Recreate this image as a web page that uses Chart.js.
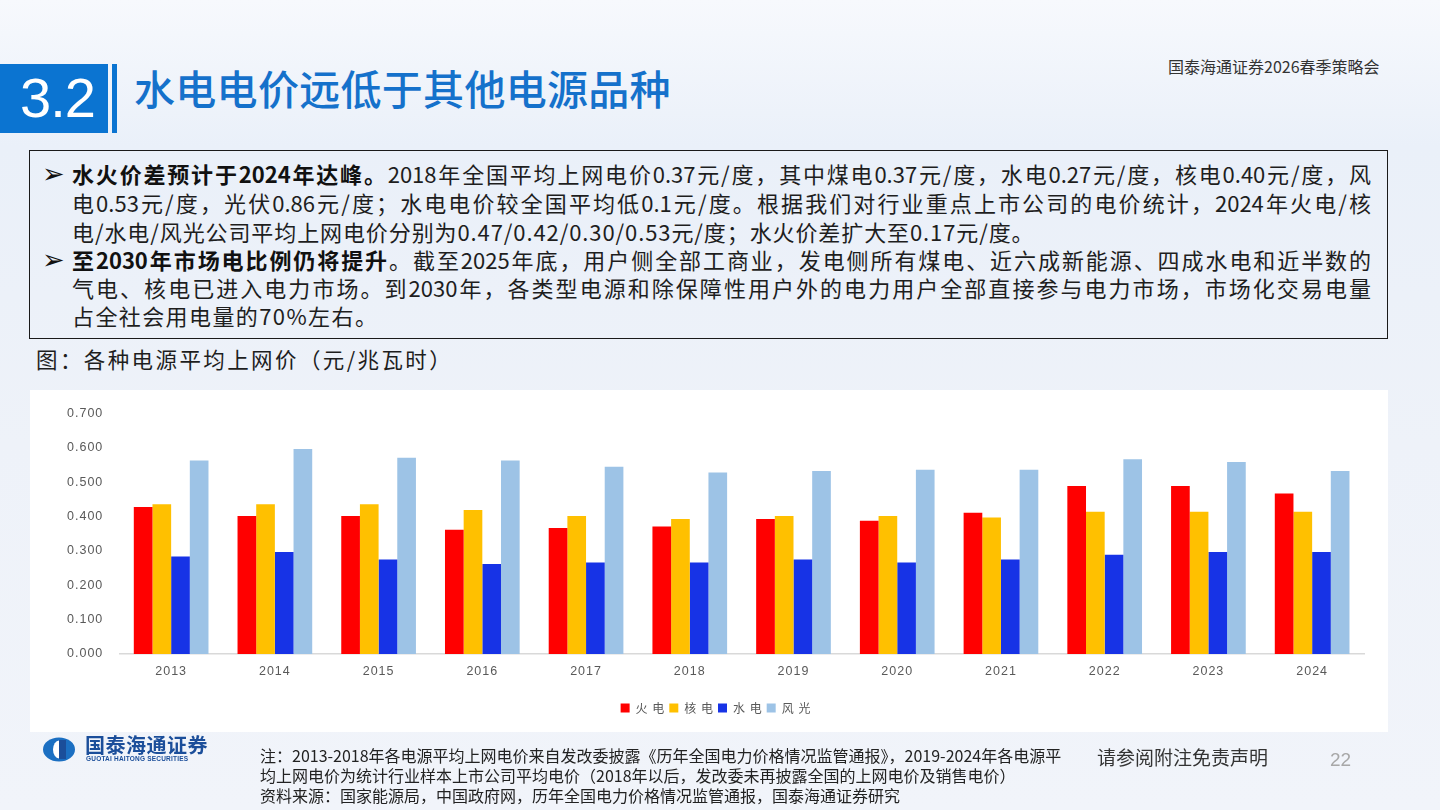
<!DOCTYPE html>
<html>
<head>
<meta charset="utf-8">
<script src="https://cdn.jsdelivr.net/npm/chart.js@4.4.1/dist/chart.umd.min.js"></script>
<style>
  html, body { margin: 0; padding: 0; }
  body {
    width: 1440px; height: 810px; overflow: hidden; position: relative;
    font-family: "Noto Sans CJK SC", "Noto Sans", sans-serif;
    background: linear-gradient(180deg, #f7f9fd 0%, #eaf0f9 18%, #eef2f9 55%, #f1f4fa 100%);
  }
  .abs { position: absolute; white-space: nowrap; }
  #numbox { left: 0; top: 64px; width: 108px; height: 69px; background: #0b74d1; }
  #num { left: 20px; top: 58px; font-family: "Liberation Sans", Arial, sans-serif; font-size: 56px; color: #fff; letter-spacing: -1px; line-height: 80px; }
  #vbar { left: 112px; top: 64px; width: 5px; height: 69px; background: #0b74d1; }
  #title { left: 134px; top: 61px; font-size: 41px; line-height: 52px; color: #1571cb; font-weight: 500; letter-spacing: 0.3px; }
  #brand { left: 1168px; top: 55px; font-size: 16px; color: #333; line-height: 22px; }
  #box { left: 29px; top: 150px; width: 1357px; height: 187px; border: 1.5px solid #1a1a1a; }
  .ln { position: absolute; left: 72px; width: 1299px; font-size: 22px; line-height: 28px; color: #1e1e1e; white-space: nowrap; }
  .ln.j { text-align: justify; text-align-last: justify; }
  .ln b { font-weight: 700; color: #111; }
  .arrow { position: absolute; left: 42px; font-size: 27px; line-height: 28px; color: #111; }
  #cap { left: 36px; top: 345px; font-size: 21.5px; letter-spacing: 2.4px; color: #1e1e1e; line-height: 28px; }
  #panel { left: 30px; top: 390px; width: 1358px; height: 342px; background: #fff; }
  #logo { left: 42px; top: 737px; width: 34px; height: 25px; }
  #logotext { left: 85px; top: 733px; font-size: 20px; font-weight: 700; color: #1b4e9a; line-height: 24px; letter-spacing: 0.5px; }
  #logoen { left: 86px; top: 755px; font-family: "Liberation Sans", Arial, sans-serif; font-size: 6.5px; font-weight: 700; color: #1b4e9a; letter-spacing: 0.2px; }
  .note { position: absolute; left: 260px; font-size: 16px; line-height: 20px; color: #222; white-space: nowrap; }
  #disc { left: 1097px; top: 744px; font-size: 19px; color: #333; line-height: 26px; }
  #page { left: 1330px; top: 747px; font-family: "Liberation Sans", Arial, sans-serif; font-size: 19px; color: #a8a8a8; line-height: 26px; }
</style>
</head>
<body>
<div class="abs" id="numbox"></div>
<div class="abs" id="num">3.2</div>
<div class="abs" id="vbar"></div>
<div class="abs" id="title">水电电价远低于其他电源品种</div>
<div class="abs" id="brand">国泰海通证券2026春季策略会</div>

<div class="abs" id="box"></div>
<div class="arrow" style="top:158px">➢</div>
<div class="ln j" style="top:159px"><b>水火价差预计于2024年达峰。</b>2018年全国平均上网电价0.37元/度，其中煤电0.37元/度，水电0.27元/度，核电0.40元/度，风</div>
<div class="ln j" style="top:188px">电0.53元/度，光伏0.86元/度；水电电价较全国平均低0.1元/度。根据我们对行业重点上市公司的电价统计，2024年火电/核</div>
<div class="ln" style="top:217px; letter-spacing:0.9px">电/水电/风光公司平均上网电价分别为0.47/0.42/0.30/0.53元/度；水火价差扩大至0.17元/度。</div>
<div class="arrow" style="top:244px">➢</div>
<div class="ln j" style="top:245px"><b>至2030年市场电比例仍将提升</b>。截至2025年底，用户侧全部工商业，发电侧所有煤电、近六成新能源、四成水电和近半数的</div>
<div class="ln j" style="top:273px">气电、核电已进入电力市场。到2030年，各类型电源和除保障性用户外的电力用户全部直接参与电力市场，市场化交易电量</div>
<div class="ln" style="top:301px; letter-spacing:1.4px">占全社会用电量的70%左右。</div>

<div class="abs" id="cap">图：各种电源平均上网价（元/兆瓦时）</div>

<div class="abs" id="panel"><canvas id="chart" width="1358" height="342"></canvas></div>

<svg class="abs" id="logo" viewBox="0 0 34 25">
  <ellipse cx="17" cy="12.5" rx="16" ry="12" fill="#1b6fc2"/>
  <ellipse cx="17" cy="12.5" rx="6" ry="9" fill="#fff"/>
  <rect x="17" y="3" width="7" height="19" fill="#1b4e9a"/>
</svg>
<div class="abs" id="logotext">国泰海通证券</div>
<div class="abs" id="logoen">GUOTAI HAITONG SECURITIES</div>

<div class="note" style="top:745px">注：2013-2018年各电源平均上网电价来自发改委披露《历年全国电力价格情况监管通报》，2019-2024年各电源平</div>
<div class="note" style="top:765px">均上网电价为统计行业样本上市公司平均电价（2018年以后，发改委未再披露全国的上网电价及销售电价）</div>
<div class="note" style="top:785px">资料来源：国家能源局，中国政府网，历年全国电力价格情况监管通报，国泰海通证券研究</div>

<div class="abs" id="disc">请参阅附注免责声明</div>
<div class="abs" id="page">22</div>

<script>
// 数据：各种电源平均上网价
const years = ['2013', '2014', '2015', '2016', '2017', '2018', '2019', '2020', '2021', '2022', '2023', '2024'];
const thermal = [0.428, 0.402, 0.402, 0.362, 0.367, 0.371, 0.393, 0.388, 0.411, 0.489, 0.489, 0.467];  // 火电
const nuclear = [0.436, 0.436, 0.436, 0.419, 0.402, 0.393, 0.402, 0.402, 0.397, 0.414, 0.414, 0.414];  // 核电
const hydro   = [0.284, 0.297, 0.275, 0.262, 0.266, 0.266, 0.275, 0.266, 0.275, 0.289, 0.297, 0.297];  // 水电
const windPv  = [0.563, 0.597, 0.571, 0.563, 0.545, 0.528, 0.533, 0.536, 0.536, 0.567, 0.559, 0.533];  // 风光
const seriesNames = ['火电', '核电', '水电', '风光'];
const seriesColors = ['#ff0000', '#ffc000', '#1733e6', '#9dc3e6'];

const tickColor = '#595959';

// canvas 字间距
const spacing = {
  id: 'spacing',
  beforeDraw(chart) { chart.ctx.letterSpacing = '1px'; }
};

const ctx = document.getElementById('chart').getContext('2d');
new Chart(ctx, {
  type: 'bar',
  data: {
    labels: years,
    datasets: [thermal, nuclear, hydro, windPv].map((vals, i) => ({
      label: seriesNames[i],
      data: vals,
      backgroundColor: seriesColors[i],
      borderWidth: 0,
      categoryPercentage: 0.72,
      barPercentage: 1.0
    }))
  },
  options: {
    responsive: false,
    animation: false,
    layout: { padding: { top: 15, left: 26, right: 24, bottom: 8 } },
    plugins: {
      legend: {
        position: 'bottom',
        labels: {
          boxWidth: 9,
          boxHeight: 9,
          padding: 4,
          color: tickColor,
          font: { family: '"Noto Sans CJK SC", sans-serif', size: 12 },
          generateLabels(chart) {
            return chart.data.datasets.map((ds, i) => ({
              text: ds.label.split('').join(' '),
              fillStyle: ds.backgroundColor,
              strokeStyle: ds.backgroundColor,
              lineWidth: 0,
              fontColor: tickColor,
              datasetIndex: i
            }));
          }
        }
      },
      tooltip: { enabled: false }
    },
    scales: {
      x: {
        grid: { display: false, drawTicks: false },
        border: { display: true, color: '#d9d9d9', width: 1.5 },
        ticks: { color: tickColor, padding: 10, font: { family: '"Liberation Sans", Arial, sans-serif', size: 12.5 } },
        afterFit(scale) { scale.height += 9; }
      },
      y: {
        min: 0,
        max: 0.7,
        grid: { display: false, drawTicks: false },
        border: { display: false },
        ticks: {
          stepSize: 0.1,
          padding: 16,
          color: tickColor,
          font: { family: '"Liberation Sans", Arial, sans-serif', size: 12.5 },
          callback: v => v.toFixed(3)
        }
      }
    }
  },
  plugins: [spacing]
});
</script>
</body>
</html>
